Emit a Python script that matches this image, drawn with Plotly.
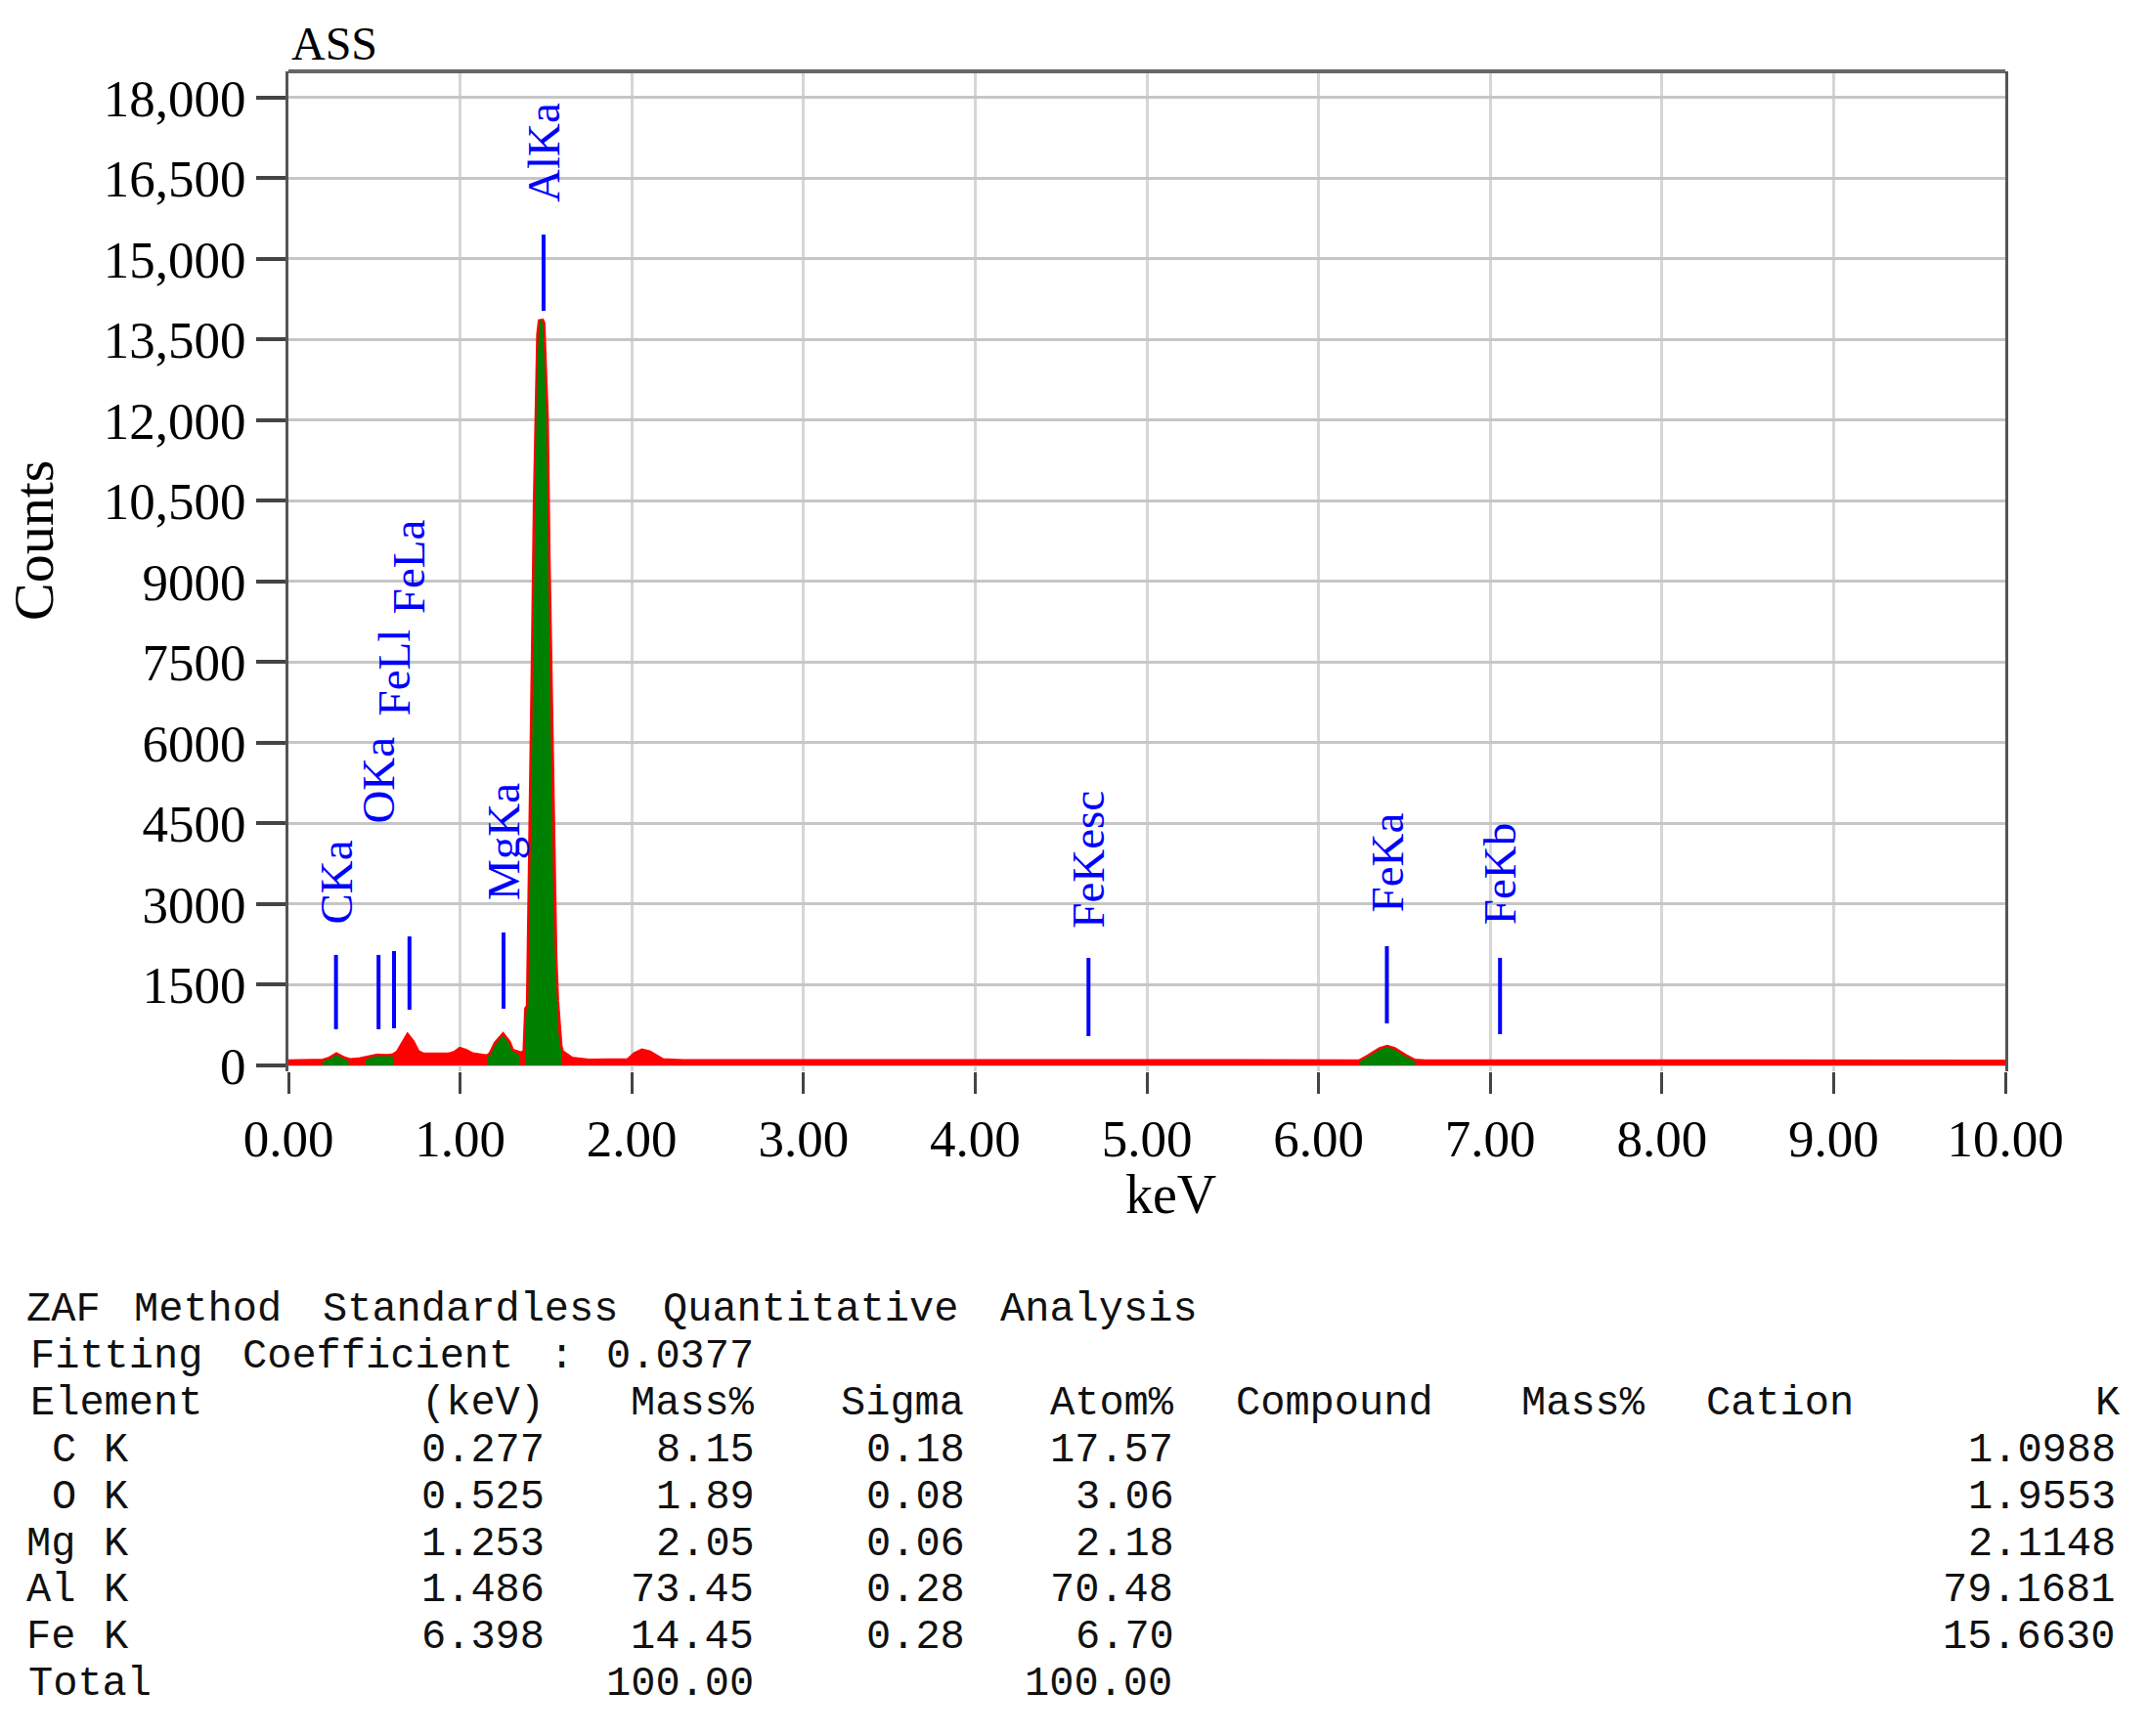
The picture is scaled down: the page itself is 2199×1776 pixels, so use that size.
import re
import plotly.graph_objects as go

# ---------------- data ----------------
# total spectrum (red)
spec_kev = [0.00, 0.10, 0.20, 0.24, 0.28, 0.32, 0.36, 0.42, 0.48, 0.52, 0.57, 0.61, 0.64, 0.67,
            0.695, 0.72, 0.75, 0.78, 0.85, 0.93, 0.97, 1.00, 1.03, 1.07, 1.12, 1.16, 1.18, 1.21,
            1.25, 1.28, 1.30, 1.33, 1.36, 1.38, 1.39, 1.40, 1.41, 1.42, 1.43, 1.44, 1.45, 1.46,
            1.47, 1.48, 1.49, 1.50, 1.51, 1.52, 1.53, 1.54, 1.55, 1.56, 1.57, 1.58, 1.59, 1.61,
            1.65, 1.75, 1.90, 1.98, 2.02, 2.06, 2.10, 2.14, 2.18, 2.30, 3.00, 4.00, 5.00, 6.00,
            6.24, 6.30, 6.36, 6.40, 6.44, 6.50, 6.56, 6.62, 7.00, 8.00, 9.00, 10.00]
spec_counts = [60, 60, 70, 110, 185, 120, 80, 100, 150, 165, 160, 170, 230, 400,
               530, 430, 240, 190, 180, 185, 220, 290, 260, 190, 170, 150, 200, 400,
               545, 420, 260, 220, 200, 250, 1050, 1100, 3000, 5300, 7900, 10400, 12700, 13600,
               13870, 13800, 12900, 12050, 9500, 7150, 5000, 3100, 2000, 1200, 600, 350, 240, 200,
               110, 70, 65, 80, 200, 260, 230, 150, 80, 65, 60, 60, 58, 58,
               60, 170, 290, 330, 290, 170, 70, 58, 58, 56, 55, 55]
assert len(spec_kev) == len(spec_counts)

# fitted element peaks (green)
ck_kev = [0.20, 0.24, 0.28, 0.32, 0.35]
ck_counts = [70, 110, 185, 120, 70]
ok_kev = [0.45, 0.48, 0.52, 0.57, 0.61]
ok_counts = [90, 140, 165, 160, 160]
mg_kev = [1.16, 1.18, 1.21, 1.25, 1.28, 1.30, 1.33, 1.35]
mg_counts = [150, 200, 400, 545, 420, 260, 220, 150]
al_kev = [1.38, 1.39, 1.40, 1.41, 1.42, 1.43, 1.44, 1.45, 1.46, 1.47, 1.48, 1.49, 1.50,
          1.51, 1.52, 1.53, 1.54, 1.55, 1.56, 1.57, 1.58, 1.59]
al_counts = [250, 1050, 1100, 3000, 5300, 7900, 10400, 12700, 13600, 13870, 13800, 12900, 12050,
             9500, 7150, 5000, 3100, 2000, 1200, 600, 350, 240]
fe_kev = [6.24, 6.30, 6.36, 6.40, 6.44, 6.50, 6.56]
fe_counts = [60, 170, 290, 330, 290, 170, 70]

# peak identification markers
line_names = ["CKa", "OKa", "FeLl", "FeLa", "MgKa", "AlKa", "FeKesc", "FeKa", "FeKb"]
line_kev = [0.277, 0.525, 0.615, 0.705, 1.253, 1.486, 4.66, 6.398, 7.057]
line_lo = [673, 673, 691, 1036, 1055, 14036, 545, 782, 582]
line_hi = [2055, 2055, 2127, 2400, 2473, 15455, 2000, 2218, 2000]
label_y = [2582, 4455, 6473, 8364, 3036, 16018, 2509, 2818, 2582]

# axes
y_tickvals = [0, 1500, 3000, 4500, 6000, 7500, 9000, 10500, 12000, 13500, 15000, 16500, 18000]
y_ticktext = ["0", "1500", "3000", "4500", "6000", "7500", "9000", "10,500", "12,000",
              "13,500", "15,000", "16,500", "18,000"]
x_tickvals = [0, 1, 2, 3, 4, 5, 6, 7, 8, 9, 10]
x_ticktext = ["0.00", "1.00", "2.00", "3.00", "4.00", "5.00", "6.00", "7.00", "8.00",
              "9.00", "10.00"]

# quantitative table
tbl_elem = [" C K", " O K", "Mg K", "Al K", "Fe K"]
tbl_kev = ["0.277", "0.525", "1.253", "1.486", "6.398"]
tbl_mass = ["8.15", "1.89", "2.05", "73.45", "14.45"]
tbl_sigma = ["0.18", "0.08", "0.06", "0.28", "0.28"]
tbl_atom = ["17.57", "3.06", "2.18", "70.48", "6.70"]
tbl_k = ["1.0988", "1.9553", "2.1148", "79.1681", "15.6630"]
tbl_total_mass = "100.00"
tbl_total_atom = "100.00"

# ---------------- layout geometry ----------------
W, H = 2199, 1776
ML, MR, MT, MB = 295, 148, 73, 680
PW = W - ML - MR
PH = H - MT - MB


def fx(px):
    return (px - ML) / PW


def fy(py):
    return (H - MB - py) / PH


SERIF = "Liberation Serif, Times New Roman, serif"
MONO = "Liberation Mono, Courier New, monospace"
RED = "#ff0000"
GREEN = "#008000"
BLUE = "#0000ff"

fig = go.Figure()

fig.add_trace(go.Scatter(x=spec_kev, y=spec_counts, mode="lines", fill="tozeroy",
                         line=dict(color=RED, width=6), fillcolor=RED, hoverinfo="skip"))
for ex, cy in [(ck_kev, ck_counts), (ok_kev, ok_counts), (mg_kev, mg_counts),
               (al_kev, al_counts), (fe_kev, fe_counts)]:
    fig.add_trace(go.Scatter(x=ex, y=cy, mode="lines", fill="tozeroy",
                             line=dict(color=GREEN, width=1), fillcolor=GREEN, hoverinfo="skip"))

lx, ly = [], []
for k, lo, hi in zip(line_kev, line_lo, line_hi):
    lx += [k, k, None]
    ly += [lo, hi, None]
fig.add_trace(go.Scatter(x=lx, y=ly, mode="lines", line=dict(color=BLUE, width=4),
                         hoverinfo="skip"))

annotations = []
for name, k, yb in zip(line_names, line_kev, label_y):
    annotations.append(dict(x=k, y=yb, xref="x", yref="y", text=name, showarrow=False,
                            textangle=-90, xanchor="center", yanchor="bottom",
                            font=dict(family=SERIF, size=47, color=BLUE)))

annotations.append(dict(x=fx(34), y=fy(553), xref="paper", yref="paper", text="Counts",
                        showarrow=False, textangle=-90, xanchor="center", yanchor="middle",
                        font=dict(family=SERIF, size=58, color="#000000")))
annotations.append(dict(x=fx(1197), y=fy(1222), xref="paper", yref="paper", text="keV",
                        showarrow=False, xanchor="center", yanchor="middle",
                        font=dict(family=SERIF, size=56, color="#000000")))
annotations.append(dict(x=fx(296), y=fy(44), xref="paper", yref="paper", text="ASS",
                        showarrow=False, xanchor="left", yanchor="middle",
                        font=dict(family=SERIF, size=48, color="#000000")))

# table text lines (fixed-width report, placed token by token on the report's column grid)
lines = ["ZAF Method Standardless Quantitative Analysis",
         "Fitting Coefficient : 0.0377",
         f"{'Element':<15}{'(keV)':>5}{'Mass%':>8}{'Sigma':>8}{'Atom%':>8}  "
         f"{'Compound':<8}   {'Mass%':<5}  {'Cation':<6}{'K':>10}"]
for e, kv, m, s, a, kk in zip(tbl_elem, tbl_kev, tbl_mass, tbl_sigma, tbl_atom, tbl_k):
    lines.append(f"{e:<15}{kv:>5}{m:>8}{s:>8}{a:>8}{kk:>36}")
lines.append(f"{'Total':<15}{'':>5}{tbl_total_mass:>8}{'':>8}{tbl_total_atom:>8}")

COL0, CHAR_W = 25, 26.8
ROW0, ROW_H = 1340, 47.9
for i, txt in enumerate(lines):
    for mt in re.finditer(r"\S+", txt):
        cx = COL0 + (mt.start() + len(mt.group()) / 2) * CHAR_W
        annotations.append(dict(x=fx(cx), y=fy(ROW0 + i * ROW_H), xref="paper", yref="paper",
                                text=mt.group(), showarrow=False,
                                xanchor="center", yanchor="middle",
                                font=dict(family=MONO, size=42, color="#111111")))

fig.update_layout(
    width=W, height=H,
    margin=dict(l=ML, r=MR, t=MT, b=MB, pad=0),
    paper_bgcolor="white", plot_bgcolor="white",
    showlegend=False,
    annotations=annotations,
    shapes=[dict(type="line", xref="paper", yref="paper", x0=0, x1=1, y0=1, y1=1,
                 line=dict(color="#666666", width=4))],
    xaxis=dict(range=[0, 10], tickvals=x_tickvals, ticktext=x_ticktext,
               showgrid=True, gridcolor="#d6d6d6", gridwidth=3, zeroline=False,
               showline=False, ticks="outside", ticklen=22, tickwidth=3, tickcolor="#444444",
               tickfont=dict(family=SERIF, size=53, color="#000000")),
    yaxis=dict(range=[-110, 18490], tickvals=y_tickvals, ticktext=y_ticktext,
               showgrid=True, gridcolor="#c6c6c6", gridwidth=3, zeroline=False,
               showline=True, linecolor="#555555", linewidth=3, mirror=True,
               ticks="outside", ticklen=30, tickwidth=4, tickcolor="#444444",
               tickfont=dict(family=SERIF, size=53, color="#000000")),
)

fig.write_html("out.html", config={"displayModeBar": False},
               post_script="document.body.style.margin='0';document.body.style.padding='0';")
